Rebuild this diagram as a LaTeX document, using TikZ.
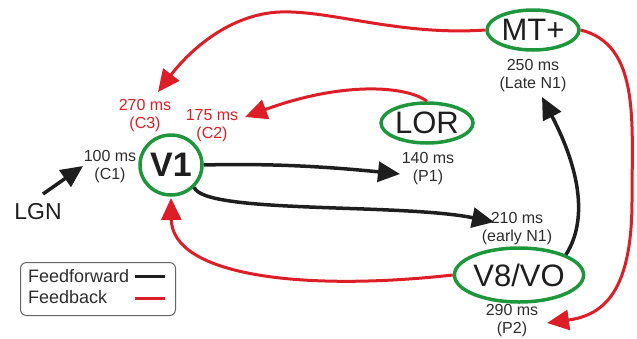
\documentclass[tikz,border=0pt]{standalone}
\usepackage{fontspec}
\setmainfont{Liberation Sans}
\usetikzlibrary{arrows.meta,shapes.geometric}
\definecolor{fbred}{RGB}{222,30,38}
\definecolor{areagreen}{RGB}{30,150,60}
\definecolor{ffblack}{RGB}{30,30,30}
\definecolor{labelgray}{RGB}{45,45,45}
\tikzset{
  area/.style={ellipse, draw=areagreen, line width=3.5, inner sep=0pt, text=ffblack,
    font=\fontsize{31}{31}\selectfont},
  lat/.style={align=center, inner sep=0pt, text=labelgray,
    font=\fontsize{16}{18}\selectfont},
  latred/.style={lat, text=fbred},
  ff/.style={draw=ffblack, line width=3.5, -{Triangle[length=22,width=20]}},
  fb/.style={draw=fbred, line width=3, -{Triangle[length=22,width=20]}},
  legendbox/.style={draw=black!60, line width=1, rounded corners=6},
  legendtext/.style={anchor=west, inner sep=0pt, text=labelgray,
    font=\fontsize{18}{18}\selectfont},
}
\begin{document}
\begin{tikzpicture}[x=1pt,y=-1pt]
\useasboundingbox (0,0) rectangle (637,338);

% cortical areas
\node[area, minimum width=62, minimum height=60,
      font=\fontsize{34}{34}\selectfont\bfseries] (v1) at (171,165) {V1};
\node[area, minimum width=92, minimum height=40] (lor) at (427,123) {LOR};
\node[area, minimum width=92, minimum height=40] (mt) at (533,30) {MT+};
\node[area, minimum width=118, minimum height=54] (v8) at (519,275) {V8/VO};
\node[inner sep=0pt, text=ffblack, font=\fontsize{23}{23}\selectfont] (lgn) at (38,212) {LGN};

% latencies
\node[lat] (c1) at (110,167) {100 ms\\(C1)};
\node[latred] (c3) at (145,116) {270 ms\\(C3)};
\node[latred] (c2) at (212,126) {175 ms\\(C2)};
\node[lat] (p1) at (428,169) {140 ms\\(P1)};
\node[lat] (ln1) at (533,76) {250 ms\\(Late N1)};
\node[lat] (en1) at (517,229) {210 ms\\(early N1)};
\node[lat] (p2) at (512,321) {290 ms\\(P2)};

% arrow end points
\coordinate (lgntail) at (43,194);
\coordinate (c1tip) at (83,166);
\coordinate (p1tip) at (400,174);
\coordinate (en1tip) at (494,222);
\coordinate (ln1tip) at (542,97);
\coordinate (c3tip) at (158,92);
\coordinate (c2tip) at (245,117);
\coordinate (v1tip) at (171,198);
\coordinate (p2tip) at (547,323);

% feedforward
\draw[ff] (lgntail) -- (c1tip);
\draw[ff] (v1.east) .. controls (280,163) and (340,168) .. (p1tip);
\draw[ff] (v1.south east) .. controls (205,214) and (400,203) .. (en1tip);
\draw[ff] (v8.north east) .. controls (588,220) and (580,170) .. (ln1tip);

% feedback
\draw[fb] (mt.west) .. controls (400,36) and (330,10) .. (280,12)
          .. controls (230,14) and (190,50) .. (c3tip);
\draw[fb] (lor.north) .. controls (405,85) and (340,82) .. (c2tip);
\draw[fb] (v8.west) .. controls (300,292) and (172,275) .. (v1tip);
\draw[fb] (mt.east) .. controls (640,45) and (632,120) .. (632,200)
          .. controls (632,290) and (605,315) .. (p2tip);

% legend
\node[legendbox, minimum width=155, minimum height=53, anchor=north west] (legend) at (20,262) {};
\node[legendtext] (fftext) at (28,276) {Feedforward};
\node[legendtext] (fbtext) at (28,297) {Feedback};
\coordinate (ffa) at (135,276);
\coordinate (ffb) at (165,276);
\coordinate (fba) at (135,298);
\coordinate (fbb) at (165,298);
\draw[draw=ffblack, line width=3] (ffa) -- (ffb);
\draw[draw=fbred, line width=3] (fba) -- (fbb);
\end{tikzpicture}
\end{document}
